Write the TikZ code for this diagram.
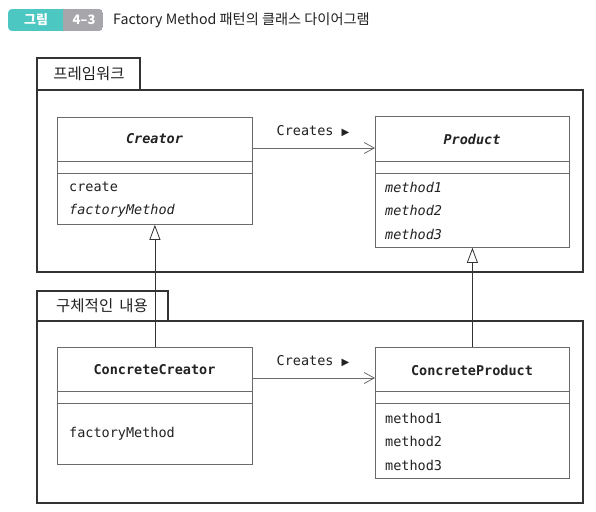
\documentclass[tikz,border=0pt]{standalone}
\usepackage{fontspec}
\usetikzlibrary{arrows.meta}
\newfontfamily\krfont{Noto Sans CJK KR}
\newfontfamily\monofont{DejaVu Sans Mono}
\newfontfamily\symfont{DejaVu Sans}
\definecolor{badgeteal}{HTML}{4CC7C2}
\definecolor{badgegrey}{HTML}{A6A6AB}
\definecolor{boxline}{HTML}{6A6A6A}
\definecolor{frameline}{HTML}{333333}
\definecolor{ink}{HTML}{222222}
\tikzset{
  frame/.style={draw=frameline, line width=1.6pt, fill=white},
  cls/.style={draw=boxline, line width=0.8pt, fill=white, inner sep=0pt, anchor=north west},
  sep/.style={draw=boxline, line width=0.8pt},
  tabtext/.style={font=\krfont\fontsize{15.5}{17}\selectfont, text=ink, inner sep=0pt},
  clsname/.style={font=\monofont\bfseries\fontsize{13.5}{15}\selectfont, text=ink, inner sep=0pt},
  member/.style={font=\monofont\fontsize{13.5}{15}\selectfont, text=ink, inner sep=0pt, anchor=west},
  imember/.style={member, font=\monofont\itshape\fontsize{13.5}{15}\selectfont},
  assoc/.style={draw=boxline, line width=0.8pt, -{Straight Barb[length=10pt,width=11pt,line width=0.8pt]}},
  inherit/.style={draw=frameline, line width=0.8pt, -{Triangle[open,length=15pt,width=11pt,line width=0.8pt,fill=white]}},
  lbl/.style={font=\monofont\fontsize{13.5}{15}\selectfont, text=ink, inner sep=0pt},
}
\newcommand{\tri}{{\symfont\fontsize{10}{10}\selectfont ▶}}
\begin{document}
\begin{tikzpicture}[x=1pt, y=-1pt]
\useasboundingbox (0,0) rectangle (596,511);
\fill[white] (0,0) rectangle (596,511);

% header badge
\begin{scope}
  \clip[rounded corners=4pt] (8,9) rectangle (103,31);
  \fill[badgeteal] (8,9) rectangle (63,31);
  \fill[badgegrey] (63,9) rectangle (103,31);
\end{scope}
\node[font=\krfont\bfseries\fontsize{13}{14}\selectfont, text=white] (badge1) at (36,20) {그림};
\node[font=\krfont\bfseries\fontsize{13}{14}\selectfont, text=white] (badge2) at (84,20) {4–3};
\node[font=\krfont\fontsize{14.2}{16}\selectfont, text=ink, anchor=west, inner sep=0pt] (title) at (113,20) {Factory Method 패턴의 클래스 다이어그램};

% frame 1
\draw[frame] (37,58) rectangle (140,90);
\draw[frame] (37,90) rectangle (583,272);
\node[tabtext] (tab1) at (89,74) {프레임워크};

% frame 2
\draw[frame] (37,291) rectangle (168,321);
\draw[frame] (37,321) rectangle (583,503);
\node[tabtext] (tab2) at (102,306) {구체적인\hspace{6pt}내용};

% Creator
\node[cls, minimum width=195pt, minimum height=107pt] (creator) at (57,117) {};
\draw[sep] (57,161) -- (252,161);
\draw[sep] (57,173) -- (252,173);
\node[clsname, font=\monofont\bfseries\itshape\fontsize{13.5}{15}\selectfont] (creatorname) at (154.5,139) {Creator};
\node[member] (cm1) at (69,187) {create};
\node[imember] (cm2) at (69,210.5) {factoryMethod};

% Product
\node[cls, minimum width=194pt, minimum height=131pt] (product) at (375,116) {};
\draw[sep] (375,161) -- (569,161);
\draw[sep] (375,173) -- (569,173);
\node[clsname, font=\monofont\bfseries\itshape\fontsize{13.5}{15}\selectfont] (productname) at (472,139) {Product};
\node[imember] (pm1) at (385,187) {method1};
\node[imember] (pm2) at (385,210.5) {method2};
\node[imember] (pm3) at (385,234.5) {method3};

% ConcreteCreator
\node[cls, minimum width=195pt, minimum height=117pt] (ccreator) at (57,347) {};
\draw[sep] (57,391) -- (252,391);
\draw[sep] (57,403) -- (252,403);
\node[clsname] (ccreatorname) at (154.5,370) {ConcreteCreator};
\node[member] (ccm1) at (69,434) {factoryMethod};

% ConcreteProduct
\node[cls, minimum width=194pt, minimum height=131pt] (cproduct) at (375,347) {};
\draw[sep] (375,391) -- (569,391);
\draw[sep] (375,403) -- (569,403);
\node[clsname] (cproductname) at (472,370) {ConcreteProduct};
\node[member] (cpm1) at (385,418) {method1};
\node[member] (cpm2) at (385,441.5) {method2};
\node[member] (cpm3) at (385,465) {method3};

% associations
\coordinate (a1) at (0,148);
\coordinate (a2) at (0,378);
\draw[assoc] (creator.east |- a1) -- (product.west |- a1);
\draw[assoc] (ccreator.east |- a2) -- (cproduct.west |- a2);
\node[lbl] (lbl1) at (313,131) {Creates \tri};
\node[lbl] (lbl2) at (313,361) {Creates \tri};

% inheritance
\draw[inherit] (ccreator.north) -- (creator.south);
\draw[inherit] (cproduct.north) -- (product.south);
\end{tikzpicture}
\end{document}
